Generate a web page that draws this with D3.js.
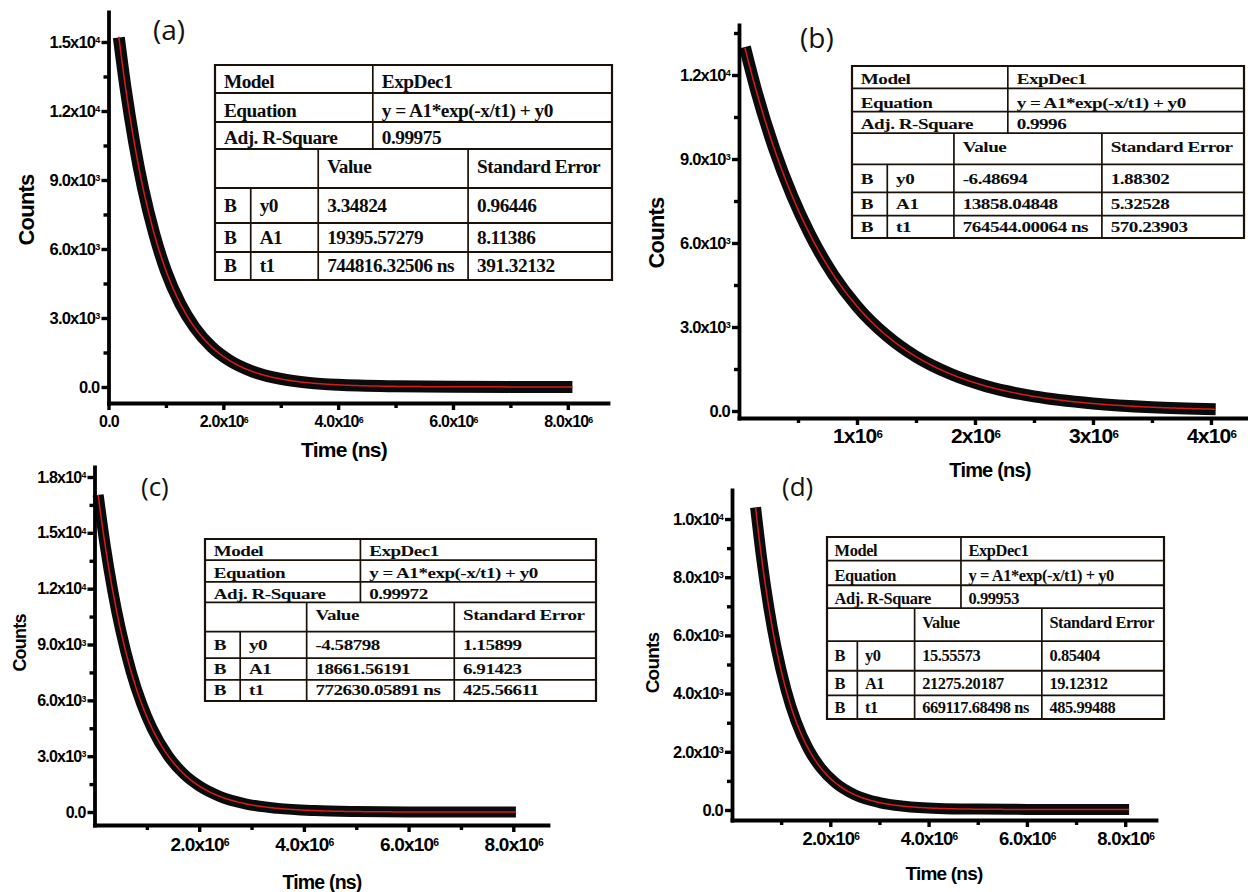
<!DOCTYPE html>
<html>
<head>
<meta charset="utf-8">
<script src="https://cdn.jsdelivr.net/npm/d3@7"></script>
<style>
  body { margin: 0; background: #fff; }
  svg { display: block; }
</style>
</head>
<body>
<svg id="chart" width="1248" height="892"></svg>
<script>
// ---- decay curves (time in ns, counts) ----
const timeA   = [0.18e6, 0.3e6, 0.45e6, 0.6e6, 0.8e6, 1.0e6, 1.25e6, 1.5e6, 1.8e6, 2.1e6, 2.5e6, 3.0e6, 3.5e6, 4.0e6, 5.0e6, 6.0e6, 7.0e6, 8.08e6];
const countsA = [15200, 12950, 10600, 8660, 6630, 5050, 3620, 2590, 1730, 1160, 680, 350, 180, 95, 30, 10, 5, 5];

const timeB   = [0.05e6, 0.15e6, 0.3e6, 0.45e6, 0.6e6, 0.8e6, 1.0e6, 1.25e6, 1.5e6, 1.8e6, 2.1e6, 2.5e6, 3.0e6, 3.5e6, 4.04e6];
const countsB = [13000, 11380, 9350, 7690, 6320, 4860, 3740, 2700, 1940, 1310, 880, 520, 270, 135, 65];

const timeC   = [0.07e6, 0.2e6, 0.35e6, 0.5e6, 0.7e6, 0.9e6, 1.1e6, 1.4e6, 1.7e6, 2.0e6, 2.4e6, 2.9e6, 3.5e6, 4.2e6, 5.0e6, 6.0e6, 7.0e6, 8.05e6];
const countsC = [17040, 14400, 11860, 9770, 7540, 5820, 4490, 3040, 2060, 1400, 830, 430, 195, 75, 25, 5, 0, -4];

const timeD   = [0.48e6, 0.6e6, 0.75e6, 0.9e6, 1.1e6, 1.3e6, 1.55e6, 1.8e6, 2.1e6, 2.5e6, 3.0e6, 3.5e6, 4.2e6, 5.0e6, 6.0e6, 7.0e6, 8.08e6];
const countsD = [10400, 8690, 6950, 5560, 4130, 3060, 2110, 1460, 940, 520, 255, 130, 55, 30, 20, 16, 16];

// ---- ExpDec1 fit results, one entry per panel (a-d) ----
const panelNames = ['(a)', '(b)', '(c)', '(d)'];
const fitModel    = 'ExpDec1';
const fitEquation = 'y = A1*exp(-x/t1) + y0';
const adjRSquare  = ['0.99975', '0.9996', '0.99972', '0.99953'];
const y0Value     = ['3.34824', '-6.48694', '-4.58798', '15.55573'];
const y0Error     = ['0.96446', '1.88302', '1.15899', '0.85404'];
const a1Value     = ['19395.57279', '13858.04848', '18661.56191', '21275.20187'];
const a1Error     = ['8.11386', '5.32528', '6.91423', '19.12312'];
const t1Value     = ['744816.32506', '764544.00064', '772630.05891', '669117.68498'];
const t1Error     = ['391.32132', '570.23903', '425.56611', '485.99488'];

// ---- axis ticks ----
const xTicksA = [0, 2e6, 4e6, 6e6, 8e6];
const xMinorA = [1e6, 3e6, 5e6, 7e6];
const yTicksA = [0, 3000, 6000, 9000, 12000, 15000];
const yMinorA = [1500, 4500, 7500, 10500, 13500];

const xTicksB = [1e6, 2e6, 3e6, 4e6];
const xMinorB = [0.5e6, 1.5e6, 2.5e6, 3.5e6];
const yTicksB = [0, 3000, 6000, 9000, 12000];
const yMinorB = [1500, 4500, 7500, 10500, 13500];

const xTicksC = [2e6, 4e6, 6e6, 8e6];
const xMinorC = [1e6, 3e6, 5e6, 7e6];
const yTicksC = [0, 3000, 6000, 9000, 12000, 15000, 18000];
const yMinorC = [1500, 4500, 7500, 10500, 13500, 16500];

const xTicksD = [2e6, 4e6, 6e6, 8e6];
const xMinorD = [1e6, 3e6, 5e6, 7e6];
const yTicksD = [0, 2000, 4000, 6000, 8000, 10000];
const yMinorD = [1000, 3000, 5000, 7000, 9000];

const xTitle = 'Time (ns)';
const yTitle = 'Counts';

// ---- panel geometry ----
const layouts = [
  { xr: [108.5, 608], xd: [0, 8.7e6],   yr: [403, 12],  yd: [-696, 16304], xDec: 1, xFont: 16, xPad: 6, yFont: 16.5,
    tx: 344, ty: 457, tFont: 21, cx: 26, cy: 210, cFont: 22, lx: 153, ly: 40, lFont: 28, table: [215, 65, 397, 215], band: 12 },
  { xr: [739, 1246],  xd: [0, 4.297e6], yr: [418, 25],  yd: [-250, 13786], xDec: 0, xFont: 21, xPad: 3.5, yFont: 16.5,
    tx: 990, ty: 477, tFont: 20, cx: 656, cy: 233, cFont: 22, lx: 800, ly: 48, lFont: 28, table: [852, 66, 392, 172], band: 12 },
  { xr: [94.5, 548],  xd: [0, 8.663e6], yr: [825, 467], yd: [-698, 18537], xDec: 1, xFont: 19, xPad: 6, yFont: 16,
    tx: 322, ty: 889, tFont: 19.5, cx: 20, cy: 643, cFont: 18, lx: 141, ly: 496, lFont: 26, table: [205, 539, 391, 162], band: 11 },
  { xr: [732, 1156],  xd: [0, 8.627e6], yr: [820, 490], yd: [-344, 10997], xDec: 1, xFont: 18.5, xPad: 4.5, yFont: 16.5,
    tx: 944, ty: 880, tFont: 19, cx: 652, cy: 663, cFont: 19, lx: 782, ly: 496, lFont: 26, table: [827, 537, 337, 182], band: 11 }
];

const series = [
  { time: timeA, counts: countsA, xt: xTicksA, xm: xMinorA, yt: yTicksA, ym: yMinorA },
  { time: timeB, counts: countsB, xt: xTicksB, xm: xMinorB, yt: yTicksB, ym: yMinorB },
  { time: timeC, counts: countsC, xt: xTicksC, xm: xMinorC, yt: yTicksC, ym: yMinorC },
  { time: timeD, counts: countsD, xt: xTicksD, xm: xMinorD, yt: yTicksD, ym: yMinorD }
];

const svg = d3.select('#chart');
const SANS = "'Liberation Sans', Arial, Helvetica, sans-serif";
const SERIF = "'Liberation Serif', 'Times New Roman', Times, serif";

// scientific label split into mantissa part and exponent
function sci(v, dec) {
  if (v === 0) return ['0.0', ''];
  const e = Math.floor(Math.log10(Math.abs(v)) + 1e-9);
  const m = v / Math.pow(10, e);
  return [m.toFixed(dec) + 'x10', String(e)];
}

function styleAxis(g, fontSize, dec) {
  g.attr('font-family', SANS).attr('font-size', fontSize).attr('font-weight', 'bold');
  g.select('.domain').attr('stroke', '#000').attr('stroke-width', 3.8).attr('stroke-linecap', 'square');
  g.selectAll('.tick line').attr('stroke', '#000').attr('stroke-width', 3.4);
  g.selectAll('.tick text').attr('fill', '#000').attr('letter-spacing', '-0.8px').each(function (d) {
    const [base, exp] = sci(d, dec);
    const t = d3.select(this);
    t.text(base);
    if (exp) t.append('tspan').attr('dy', '-0.5em').attr('font-size', '0.55em').text(exp);
  });
}

function drawPanel(i) {
  const L = layouts[i], S = series[i];
  const g = svg.append('g').attr('class', 'panel');
  const x = d3.scaleLinear().domain(L.xd).range(L.xr);
  const y = d3.scaleLinear().domain(L.yd).range(L.yr);
  const x0 = L.xr[0], yBase = L.yr[0];

  // measured decay, drawn as a heavy black band
  const line = d3.line().x((d, k) => x(S.time[k])).y(d => y(d)).curve(d3.curveMonotoneX);
  g.append('path')
    .attr('d', line(S.counts))
    .attr('fill', 'none')
    .attr('stroke', '#0b0b0b')
    .attr('stroke-width', L.band)
    .attr('stroke-linejoin', 'round')
    .attr('stroke-linecap', 'butt');

  // ExpDec1 fit line from the tabulated parameters
  const A1 = +a1Value[i], T1 = +t1Value[i], Y0 = +y0Value[i];
  const tStart = S.time[0], tEnd = S.time[S.time.length - 1];
  const fitPts = d3.range(0, 401).map(k => {
    const t = tStart + (tEnd - tStart) * k / 400;
    return [t, A1 * Math.exp(-t / T1) + Y0];
  });
  g.append('path')
    .attr('d', d3.line().x(d => x(d[0])).y(d => y(d[1]))(fitPts))
    .attr('fill', 'none')
    .attr('stroke', '#d41c1c')
    .attr('stroke-width', 1.5);

  // axes: minor ticks first, then major ticks with labels
  g.append('g').attr('transform', `translate(0,${yBase})`)
    .call(d3.axisBottom(x).tickValues(S.xm).tickSize(5).tickFormat(''))
    .call(a => { a.select('.domain').remove(); a.selectAll('.tick line').attr('stroke', '#000').attr('stroke-width', 3.4); });
  g.append('g').attr('transform', `translate(${x0},0)`)
    .call(d3.axisLeft(y).tickValues(S.ym).tickSize(5).tickFormat(''))
    .call(a => { a.select('.domain').remove(); a.selectAll('.tick line').attr('stroke', '#000').attr('stroke-width', 3.4); });

  g.append('g').attr('transform', `translate(0,${yBase})`)
    .call(d3.axisBottom(x).tickValues(S.xt).tickSize(7).tickSizeOuter(0).tickPadding(L.xPad))
    .call(a => styleAxis(a, L.xFont, L.xDec));
  g.append('g').attr('transform', `translate(${x0},0)`)
    .call(d3.axisLeft(y).tickValues(S.yt).tickSize(7).tickSizeOuter(0).tickPadding(2))
    .call(a => styleAxis(a, L.yFont, 1));

  // axis titles
  g.append('text')
    .attr('x', L.tx).attr('y', L.ty)
    .attr('text-anchor', 'middle')
    .attr('font-family', SANS).attr('font-weight', 'bold').attr('font-size', L.tFont)
    .attr('letter-spacing', '-0.8px')
    .text(xTitle);
  g.append('text')
    .attr('transform', `translate(${L.cx},${L.cy}) rotate(-90)`)
    .attr('text-anchor', 'middle').attr('dy', '0.35em')
    .attr('font-family', SANS).attr('font-weight', 'bold').attr('font-size', L.cFont)
    .attr('letter-spacing', '-0.8px')
    .text(yTitle);

  // panel letter
  g.append('text')
    .attr('x', L.lx).attr('y', L.ly)
    .attr('font-family', "'Open Sans', 'Noto Sans', sans-serif")
    .attr('font-size', L.lFont)
    .attr('fill', '#111')
    .text(panelNames[i]);

  drawTable(g, i, L.table);
}

// fit-result table, laid out on a 400 x 215 grid and scaled into place
function drawTable(parent, i, box) {
  const [left, top, w, h] = box;
  const W = 400, H = 215;
  const rows = [0, 28, 57, 84, 123, 158, 187, 215];
  const cB = 36, cVal = 104, cTop = 159, cErr = 255;
  const t = parent.append('g').attr('transform', `translate(${left},${top}) scale(${w / W},${h / H})`);

  const stroke = (x1, y1, x2, y2, sw) => t.append('line')
    .attr('x1', x1).attr('y1', y1).attr('x2', x2).attr('y2', y2)
    .attr('stroke', '#1a1208').attr('stroke-width', sw)
    .attr('vector-effect', 'non-scaling-stroke');

  t.append('rect').attr('x', 0).attr('y', 0).attr('width', W).attr('height', H)
    .attr('fill', '#fff').attr('stroke', '#1a1208').attr('stroke-width', 2.2)
    .attr('vector-effect', 'non-scaling-stroke');
  rows.slice(1, -1).forEach(r => stroke(0, r, W, r, 1.8));
  stroke(cTop, 0, cTop, rows[3], 1.7);
  stroke(cVal, rows[3], cVal, H, 1.7);
  stroke(cErr, rows[3], cErr, H, 1.7);
  stroke(cB, rows[4], cB, H, 1.7);

  const cell = (txt, xx, yy) => t.append('text')
    .attr('x', xx).attr('y', yy)
    .attr('font-family', SERIF).attr('font-weight', 'bold').attr('font-size', 19.5)
    .attr('letter-spacing', '-0.5px').attr('fill', '#0d0d0d')
    .text(txt);

  const pad = 9;
  const topBase = k => rows[k + 1] - 5;
  const midBase = k => (rows[k] + rows[k + 1]) / 2 + 6.5;

  cell('Model', pad, topBase(0));           cell(fitModel, cTop + pad, topBase(0));
  cell('Equation', pad, topBase(1));        cell(fitEquation, cTop + pad, topBase(1));
  cell('Adj. R-Square', pad, topBase(2));   cell(adjRSquare[i], cTop + pad, topBase(2));
  cell('Value', cVal + pad, rows[3] + 24);  cell('Standard Error', cErr + pad, rows[3] + 24);

  const body = [
    ['y0', y0Value[i], y0Error[i]],
    ['A1', a1Value[i], a1Error[i]],
    ['t1', t1Value[i] + ' ns', t1Error[i]]
  ];
  body.forEach((r, k) => {
    const yy = midBase(4 + k);
    cell('B', pad, yy);
    cell(r[0], cB + pad, yy);
    cell(r[1], cVal + pad, yy);
    cell(r[2], cErr + pad, yy);
  });
}

[0, 1, 2, 3].forEach(drawPanel);
</script>
</body>
</html>
